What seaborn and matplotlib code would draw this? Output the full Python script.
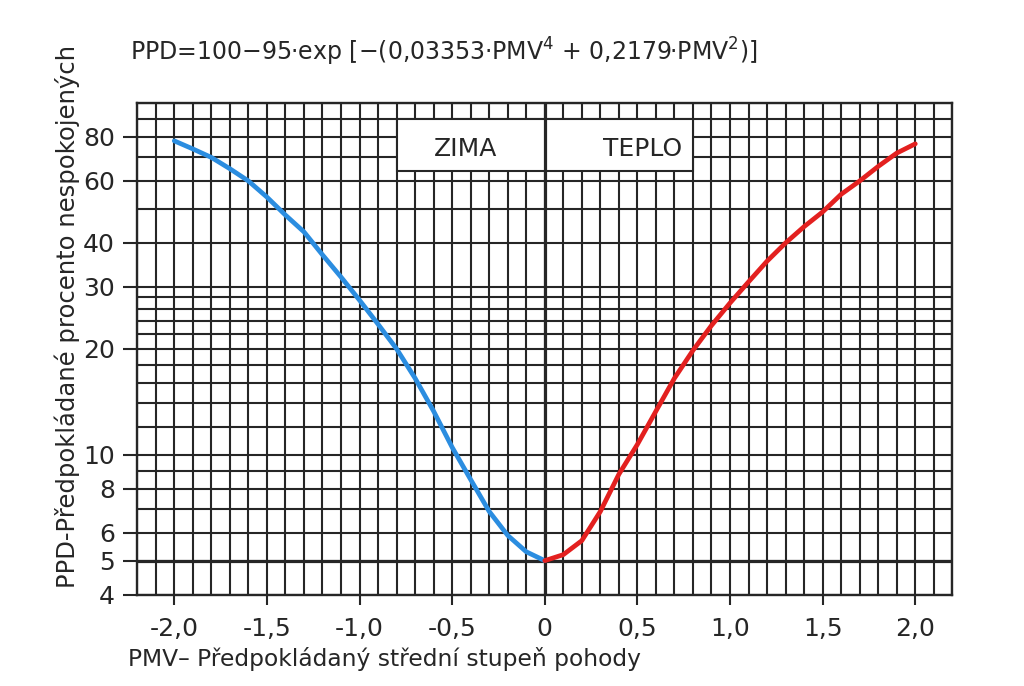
import matplotlib
matplotlib.use("Agg")
import matplotlib.pyplot as plt
import pandas as pd
import seaborn as sns
from matplotlib.patches import Rectangle
from matplotlib.ticker import NullFormatter


# Values (PMV -> PPD %)
pmv_zima = [-2.0, -1.9, -1.8, -1.7, -1.6, -1.5, -1.4, -1.3, -1.2, -1.1, -1.0,
            -0.9, -0.8, -0.7, -0.6, -0.5, -0.4, -0.3, -0.2, -0.1, 0.0]
ppd_zima = [78, 74, 70, 65, 60, 54, 48, 43, 37, 32, 27.5,
            23.5, 20, 16.5, 13.3, 10.5, 8.5, 6.9, 5.9, 5.3, 5.0]

pmv_teplo = [0.0, 0.1, 0.2, 0.3, 0.4, 0.5, 0.6, 0.7, 0.8, 0.9, 1.0,
             1.1, 1.2, 1.3, 1.4, 1.5, 1.6, 1.7, 1.8, 1.9, 2.0]
ppd_teplo = [5.0, 5.2, 5.7, 6.9, 8.8, 10.7, 13.3, 16.5, 19.8, 23.3, 27,
             31, 35.5, 40, 44.5, 49, 55, 60, 66, 72, 76.5]

x_ticks = [-2.0, -1.5, -1.0, -0.5, 0.0, 0.5, 1.0, 1.5, 2.0]
x_tick_labels = ["-2,0", "-1,5", "-1,0", "-0,5", "0", "0,5", "1,0", "1,5", "2,0"]
y_ticks = [4, 5, 6, 8, 10, 20, 30, 40, 60, 80]
y_tick_labels = ["4", "5", "6", "8", "10", "20", "30", "40", "60", "80"]
y_grid = [4, 5, 6, 7, 8, 9, 10, 12, 14, 16, 18, 20, 22, 24, 26, 28, 30,
          40, 50, 60, 70, 80, 90, 100]
x_grid = [round(-2.2 + 0.1 * i, 1) for i in range(45)]

title = "PPD=100$-$95·exp [$-$(0,03353·PMV$^4$ + 0,2179·PMV$^2$)]"
x_label = "PMV– Předpokládaný střední stupeň pohody"
y_label = "PPD-Předpokládané procento nespokojených"

sns.set_theme(style="white")
plt.rcParams["font.family"] = ["DejaVu Sans"]
plt.rcParams["mathtext.fontset"] = "dejavusans"

ink = "#262626"
df_zima = pd.DataFrame({"PMV": pmv_zima, "PPD": ppd_zima})
df_teplo = pd.DataFrame({"PMV": pmv_teplo, "PPD": ppd_teplo})

fig = plt.figure(figsize=(10.24, 6.86), dpi=100)
ax = fig.add_axes([0.134, 0.133, 0.796, 0.717])

ax.set_yscale("log")
ax.set_xlim(-2.2, 2.2)
ax.set_ylim(4, 100)

# dense graph-paper grid (drawn as plain lines so nothing gets dropped)
for gx in x_grid:
  ax.axvline(gx, color=ink, linewidth=1.5, zorder=1)
for gy in y_grid:
  ax.axhline(gy, color=ink, linewidth=1.5, zorder=1)
ax.axvline(0, color=ink, linewidth=2.3, zorder=1.5)
ax.axhline(5, color=ink, linewidth=2.3, zorder=1.5)

ax.set_xticks(x_ticks)
ax.set_xticklabels(x_tick_labels)
ax.set_yticks(y_ticks)
ax.set_yticklabels(y_tick_labels)
ax.yaxis.set_minor_formatter(NullFormatter())
ax.tick_params(axis="x", which="major", direction="out", length=7, width=1.5,
               color=ink, pad=9, labelsize=18, labelcolor=ink)
ax.tick_params(axis="y", which="major", direction="out", length=10, width=1.5,
               color=ink, pad=6, labelsize=18, labelcolor=ink)
ax.tick_params(which="minor", length=0)
ax.tick_params(bottom=True, left=True)

for side in ax.spines.values():
  side.set_color(ink)
  side.set_linewidth(1.7)

# winter / summer label box
ax.add_patch(Rectangle((-0.8, 64), 1.6, 26, facecolor="white", edgecolor=ink,
                       linewidth=1.5, zorder=1.2))
ax.text(-0.43, 74, "ZIMA", ha="center", va="center", fontsize=18, color=ink, zorder=3)
ax.text(0.74, 74, "TEPLO", ha="right", va="center", fontsize=18, color=ink, zorder=3)

sns.lineplot(data=df_zima, x="PMV", y="PPD", ax=ax, color="#2b8de0",
             linewidth=3.4, zorder=4)
sns.lineplot(data=df_teplo, x="PMV", y="PPD", ax=ax, color="#e3201f",
             linewidth=3.4, zorder=4)

ax.set_xlabel("")
ax.set_ylabel("")
fig.text(0.125, 0.04, x_label, fontsize=16.8, color=ink, ha="left", va="center")
fig.text(0.066, 0.538, y_label, fontsize=17.5, color=ink, rotation=90,
         ha="center", va="center")
fig.text(0.127, 0.925, title, fontsize=17, color=ink, ha="left", va="center")

fig.savefig("out.png", dpi=100, facecolor="white")
